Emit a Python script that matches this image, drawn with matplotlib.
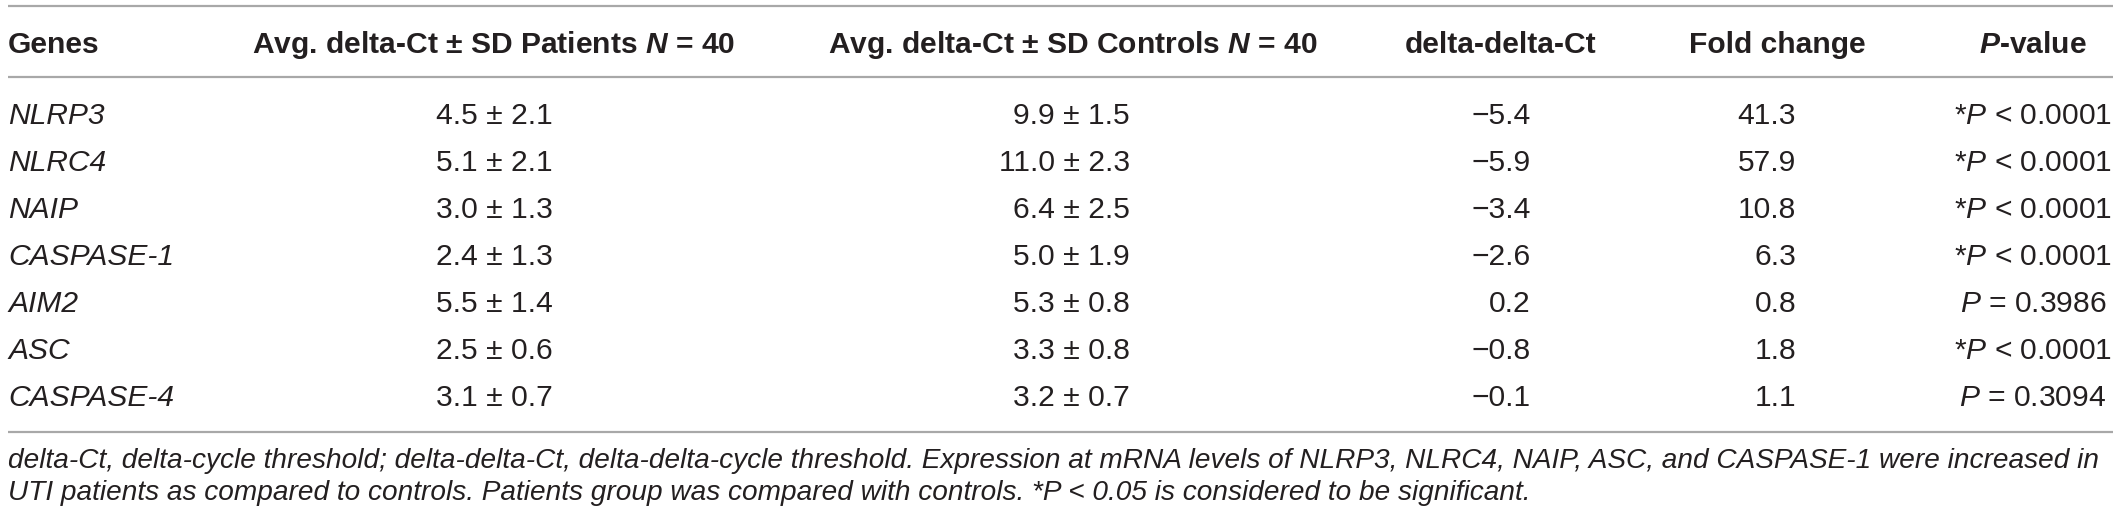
import numpy as np
import matplotlib
matplotlib.use("Agg")
import matplotlib.pyplot as plt

# valores da tabela
genes = ['NLRP3', 'NLRC4', 'NAIP', 'CASPASE-1', 'AIM2', 'ASC', 'CASPASE-4']
pac_media = [4.5, 5.1, 3.0, 2.4, 5.5, 2.5, 3.1]
pac_dp = [2.1, 2.1, 1.3, 1.3, 1.4, 0.6, 0.7]
ctrl_media = [9.9, 11.0, 6.4, 5.0, 5.3, 3.3, 3.2]
ctrl_dp = [1.5, 2.3, 2.5, 1.9, 0.8, 0.8, 0.7]
delta_delta = [-5.4, -5.9, -3.4, -2.6, 0.2, -0.8, -0.1]
fold_change = [41.3, 57.9, 10.8, 6.3, 0.8, 1.8, 1.1]
p_valores = ['< 0.0001', '< 0.0001', '< 0.0001', '< 0.0001', '= 0.3986', '< 0.0001', '= 0.3094']
significativo = [True, True, True, True, False, True, False]

cabecalhos = ['Genes',
              'Avg. delta-Ct \u00b1 SD Patients $\\mathbfit{N}$ = 40',
              'Avg. delta-Ct \u00b1 SD Controls $\\mathbfit{N}$ = 40',
              'delta-delta-Ct',
              'Fold change',
              '$\\mathbfit{P}$-value']

nota = ['delta-Ct, delta-cycle threshold; delta-delta-Ct, delta-delta-cycle threshold. '
        'Expression at mRNA levels of NLRP3, NLRC4, NAIP, ASC, and CASPASE-1 were increased in',
        'UTI patients as compared to controls. Patients group was compared with controls. '
        '*P < 0.05 is considered to be significant.']

plt.rcParams['font.family'] = 'Liberation Sans'
plt.rcParams['mathtext.fontset'] = 'custom'
plt.rcParams['mathtext.rm'] = 'Liberation Sans'
plt.rcParams['mathtext.it'] = 'Liberation Sans:italic'
plt.rcParams['mathtext.bf'] = 'Liberation Sans:bold'
plt.rcParams['mathtext.bfit'] = 'Liberation Sans:italic:bold'

cor_texto = '#231f20'
cor_linha = '#a8a8a8'
tam = 21.6
tam_nota = 20.2

fig = plt.figure(figsize=(21.2, 5.18), dpi=100)
ax = fig.add_axes([0, 0, 1, 1])
ax.set_xlim(0, 2120)
ax.set_ylim(518, 0)
ax.axis('off')

# linhas horizontais
for y in [6, 77, 432]:
    ax.plot([8, 2113], [y, y], color=cor_linha, lw=1.6, solid_capstyle='butt')

# cabeçalho
x_cab = [8, 494, 1073, 1501, 1777, 2033]
alin_cab = ['left', 'center', 'center', 'center', 'center', 'center']
for txt, x, ha in zip(cabecalhos, x_cab, alin_cab):
    ax.text(x, 53, txt, ha=ha, va='baseline', fontsize=tam,
            fontweight='bold', color=cor_texto)

# linhas da tabela
for i in range(len(genes)):
    yb = 124 + 47 * i
    ax.text(8, yb, genes[i], ha='left', va='baseline', fontsize=tam,
            style='italic', color=cor_texto)
    ax.text(494, yb, '{:.1f} \u00b1 {:.1f}'.format(pac_media[i], pac_dp[i]),
            ha='center', va='baseline', fontsize=tam, color=cor_texto)
    ax.text(1130, yb, '{:.1f} \u00b1 {:.1f}'.format(ctrl_media[i], ctrl_dp[i]),
            ha='right', va='baseline', fontsize=tam, color=cor_texto)
    ax.text(1531, yb, '{:.1f}'.format(delta_delta[i]).replace('-', '\u2212'),
            ha='right', va='baseline', fontsize=tam, color=cor_texto)
    ax.text(1796, yb, '{:.1f}'.format(fold_change[i]),
            ha='right', va='baseline', fontsize=tam, color=cor_texto)
    pref = '*' if significativo[i] else ''
    ax.text(2033, yb, pref + '$\\mathit{P}$ ' + p_valores[i],
            ha='center', va='baseline', fontsize=tam, color=cor_texto)

# nota de rodapé
for j, linha in enumerate(nota):
    ax.text(8, 468 + 32 * j, linha, ha='left', va='baseline',
            fontsize=tam_nota, style='italic', color=cor_texto)

fig.savefig('out.png', dpi=100, facecolor='white')
